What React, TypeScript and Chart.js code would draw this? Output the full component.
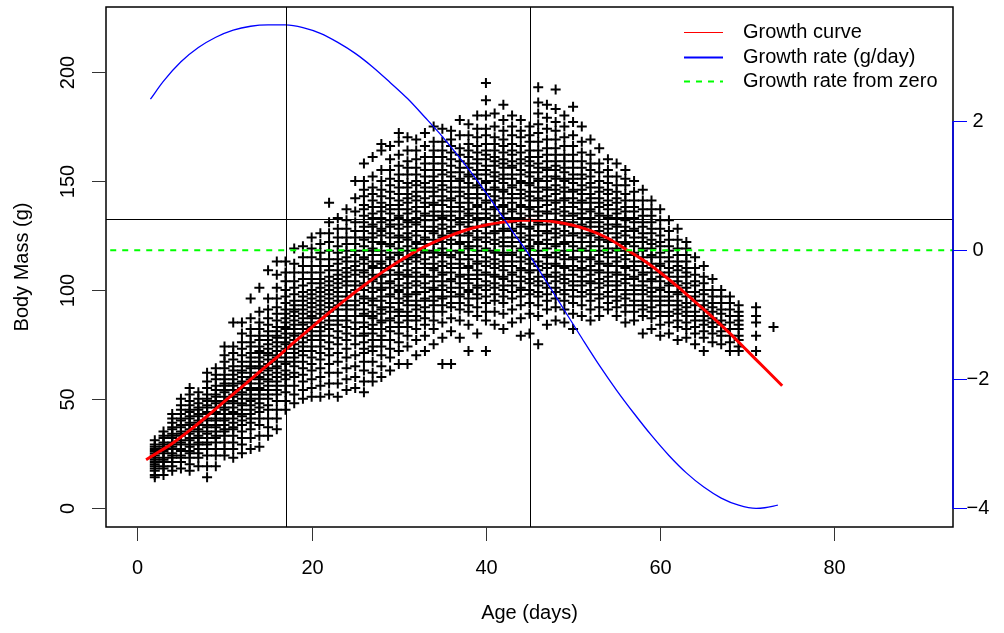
import React, { useEffect, useRef } from 'react';
import { Chart, registerables } from 'chart.js';

Chart.register(...registerables);

const xTicks = [0, 20, 40, 60, 80];
const yTicks = [0, 50, 100, 150, 200];
const y1Ticks = [-4, -2, 0, 2];
const y1TickLabels = ['\u22124', '\u22122', '0', '2'];
const refAges = [17, 45];
const refMass = 132.6;
const xLabel = 'Age (days)';
const yLabel = 'Body Mass (g)';
const legendLabels = ['Growth curve', 'Growth rate (g/day)', 'Growth rate from zero'];

const curveAges = [1, 2, 4, 6, 8, 10, 12, 14, 16, 18, 20, 22, 24, 26, 28, 30, 32, 34, 36, 38, 40, 42, 44, 45, 46, 48, 50, 52, 54, 56, 58, 60, 62, 64, 66, 68, 70, 72, 74];
const curveMass = [22, 24.5, 29.5, 35.5, 42, 48.8, 55.5, 62.3, 69, 76, 82.8, 89.5, 95.9, 102, 107.8, 113, 117.8, 121.8, 125, 127.8, 129.8, 131.1, 131.9, 132, 131.9, 131.2, 129.7, 127.2, 123.7, 118.8, 113.8, 108, 101.5, 94.5, 87.5, 80, 72, 64, 56];

const rateAges = [1.5, 3, 5, 7, 9, 11, 13, 15, 17, 19, 21, 23, 25, 27, 29, 31, 33, 35, 37, 39, 41, 43, 45, 47, 49, 51, 53, 55, 57, 59, 61, 63, 65, 67, 69, 71, 72, 73.5];
const rateValues = [2.34, 2.62, 2.92, 3.14, 3.3, 3.41, 3.47, 3.49, 3.49, 3.45, 3.36, 3.22, 3.05, 2.84, 2.6, 2.35, 2.06, 1.76, 1.43, 1.08, 0.7, 0.3, -0.08, -0.5, -0.93, -1.36, -1.78, -2.17, -2.53, -2.87, -3.18, -3.45, -3.67, -3.84, -3.95, -4.0, -3.99, -3.95];

const scatterAges = [2, 3, 4, 5, 6, 7, 8, 9, 10, 11, 12, 13, 14, 15, 16, 17, 18, 19, 20, 21, 22, 23, 24, 25, 26, 27, 28, 29, 30, 31, 32, 33, 34, 35, 36, 37, 38, 39, 40, 41, 42, 43, 44, 45, 46, 47, 48, 49, 50, 51, 52, 53, 54, 55, 56, 57, 58, 59, 60, 61, 62, 63, 64, 65, 66, 67, 68, 69, 71, 73];
const scatterMasses = [
  [14, 15, 17, 18, 19, 20, 21, 22, 23, 24, 25, 26, 27, 28, 29, 31],
  [15, 18, 19, 21, 22, 23, 25, 26, 27, 28, 29, 30, 32, 33, 35],
  [17, 19, 21, 23, 24, 25, 27, 28, 29, 30, 32, 33, 34, 36, 37, 39, 41, 43],
  [18, 21, 23, 24, 26, 27, 29, 30, 31, 33, 34, 35, 37, 38, 40, 41, 43, 45, 47, 50],
  [17, 20, 23, 25, 26, 28, 29, 31, 32, 34, 35, 36, 38, 39, 41, 42, 44, 45, 47, 49, 52, 55],
  [19, 23, 25, 27, 29, 30, 32, 33, 35, 36, 38, 39, 40, 42, 43, 45, 46, 48, 50, 53],
  [14, 19, 24, 27, 29, 30, 32, 34, 35, 37, 38, 40, 41, 43, 44, 46, 47, 49, 50, 52, 55, 58, 62],
  [19, 24, 27, 30, 32, 33, 35, 37, 38, 40, 41, 43, 44, 46, 48, 49, 51, 52, 54, 56, 59, 61, 64],
  [24, 27, 30, 33, 35, 36, 38, 40, 41, 43, 45, 46, 48, 49, 51, 53, 54, 56, 57, 59, 61, 64, 67, 70, 74],
  [23, 27, 30, 33, 36, 37, 39, 41, 43, 44, 46, 48, 49, 51, 52, 54, 56, 57, 59, 61, 63, 65, 68, 71, 74, 85],
  [25, 29, 32, 35, 38, 40, 42, 43, 45, 47, 48, 50, 52, 53, 55, 57, 58, 60, 62, 63, 65, 67, 70, 73, 76, 80, 85],
  [27, 32, 36, 39, 41, 43, 45, 47, 49, 50, 52, 54, 55, 57, 59, 60, 62, 64, 65, 67, 69, 71, 74, 76, 79, 82, 87, 96],
  [28, 33, 38, 41, 44, 46, 48, 50, 52, 54, 55, 57, 59, 60, 62, 64, 65, 67, 69, 71, 72, 74, 77, 79, 82, 85, 90, 101],
  [33, 37, 41, 45, 47, 50, 52, 54, 56, 58, 59, 61, 63, 64, 66, 68, 70, 71, 73, 75, 77, 79, 81, 84, 87, 91, 96, 109],
  [36, 41, 45, 49, 52, 54, 56, 58, 60, 62, 64, 65, 67, 69, 70, 72, 74, 76, 78, 79, 81, 83, 86, 89, 92, 96, 101, 107, 113],
  [45, 49, 53, 56, 59, 61, 63, 66, 67, 69, 71, 73, 75, 76, 78, 80, 82, 83, 85, 87, 89, 91, 94, 97, 100, 104, 108, 113],
  [48, 52, 56, 60, 62, 65, 67, 69, 71, 73, 75, 77, 79, 80, 82, 84, 86, 88, 90, 91, 93, 95, 98, 101, 104, 108, 112, 119],
  [50, 54, 58, 61, 64, 67, 70, 72, 74, 76, 78, 80, 82, 84, 85, 87, 89, 91, 93, 95, 97, 99, 102, 105, 108, 111, 115, 120],
  [51, 55, 59, 63, 66, 69, 72, 74, 77, 79, 81, 83, 85, 87, 88, 90, 92, 94, 96, 98, 100, 103, 105, 108, 111, 115, 119, 124],
  [51, 56, 60, 64, 68, 71, 74, 77, 79, 81, 83, 85, 87, 89, 91, 93, 95, 97, 99, 101, 103, 105, 108, 111, 114, 117, 121, 126],
  [52, 57, 62, 66, 70, 73, 76, 79, 82, 84, 86, 88, 90, 92, 94, 96, 98, 100, 102, 104, 106, 109, 111, 114, 118, 122, 126, 131, 140],
  [51, 57, 62, 67, 71, 75, 78, 81, 84, 86, 88, 91, 93, 95, 97, 99, 101, 103, 105, 107, 109, 112, 114, 117, 120, 124, 128, 133],
  [54, 59, 64, 69, 73, 77, 80, 83, 86, 88, 91, 93, 95, 97, 99, 102, 104, 106, 108, 110, 113, 115, 118, 121, 124, 128, 132, 137],
  [55, 60, 65, 70, 75, 79, 82, 85, 88, 91, 93, 95, 98, 100, 102, 104, 107, 109, 111, 113, 116, 118, 121, 124, 127, 131, 136, 142, 150],
  [53, 58, 63, 67, 71, 73, 76, 79, 80, 83, 85, 88, 89, 91, 94, 96, 97, 100, 102, 103, 106, 108, 109, 112, 114, 115, 118, 120, 123, 124, 127, 129, 131, 134, 137, 139, 143, 146, 150, 158],
  [58, 62, 67, 72, 74, 77, 80, 82, 84, 87, 88, 90, 93, 95, 96, 99, 101, 104, 105, 107, 110, 111, 113, 116, 118, 119, 122, 124, 126, 129, 130, 133, 135, 138, 141, 144, 147, 152, 161],
  [60, 65, 70, 74, 77, 79, 82, 85, 86, 89, 91, 92, 95, 97, 100, 101, 103, 106, 107, 110, 112, 113, 116, 118, 121, 122, 125, 127, 128, 131, 133, 136, 138, 140, 143, 146, 150, 155, 164, 167],
  [63, 69, 73, 77, 81, 83, 86, 87, 90, 92, 94, 97, 98, 101, 103, 104, 107, 109, 111, 114, 115, 117, 120, 121, 124, 126, 129, 130, 132, 135, 137, 139, 142, 145, 148, 151, 155, 160, 166],
  [66, 72, 76, 80, 83, 85, 88, 90, 91, 94, 96, 99, 100, 102, 105, 107, 108, 111, 113, 116, 117, 119, 122, 124, 125, 128, 130, 133, 134, 137, 139, 141, 144, 147, 150, 153, 157, 162, 168, 172],
  [66, 74, 79, 83, 86, 88, 90, 93, 95, 97, 98, 101, 103, 106, 107, 109, 112, 114, 115, 118, 120, 123, 124, 126, 129, 131, 132, 135, 137, 140, 142, 144, 147, 149, 153, 156, 159, 164, 170],
  [70, 77, 82, 86, 88, 91, 93, 95, 98, 99, 102, 104, 106, 108, 110, 113, 115, 116, 119, 121, 122, 125, 127, 130, 131, 133, 136, 138, 141, 143, 145, 148, 150, 153, 156, 160, 164, 169],
  [72, 79, 84, 87, 90, 92, 95, 96, 99, 101, 103, 106, 107, 110, 112, 114, 117, 118, 121, 123, 124, 127, 129, 132, 134, 135, 138, 140, 142, 145, 147, 149, 152, 155, 158, 161, 166, 172],
  [75, 82, 86, 90, 93, 95, 97, 100, 101, 104, 106, 109, 110, 112, 115, 117, 118, 121, 123, 126, 127, 129, 132, 134, 136, 139, 140, 143, 145, 147, 150, 152, 155, 158, 161, 164, 168, 175],
  [66, 78, 85, 90, 93, 96, 97, 100, 102, 104, 107, 108, 111, 113, 116, 117, 119, 122, 124, 125, 128, 130, 133, 134, 136, 139, 141, 143, 146, 148, 150, 153, 155, 158, 161, 164, 168, 174],
  [66, 81, 87, 92, 94, 97, 99, 101, 104, 105, 108, 110, 112, 115, 116, 118, 121, 123, 126, 127, 129, 132, 134, 136, 138, 141, 142, 145, 147, 150, 152, 154, 157, 160, 163, 166, 169, 173],
  [78, 86, 91, 94, 97, 98, 101, 103, 106, 107, 110, 112, 114, 117, 118, 121, 122, 125, 127, 130, 131, 133, 136, 138, 140, 143, 145, 147, 150, 151, 154, 156, 159, 162, 165, 171, 178],
  [72, 84, 90, 93, 96, 99, 100, 103, 105, 107, 110, 111, 114, 116, 119, 120, 122, 125, 126, 129, 131, 134, 135, 137, 140, 142, 144, 147, 149, 152, 153, 156, 158, 161, 164, 167, 171, 176],
  [80, 88, 92, 96, 98, 101, 102, 105, 107, 109, 112, 113, 116, 118, 120, 123, 124, 127, 129, 132, 133, 135, 138, 139, 142, 144, 147, 148, 151, 153, 155, 158, 160, 163, 166, 170, 174, 180],
  [72, 86, 90, 94, 97, 100, 102, 104, 107, 108, 111, 113, 115, 118, 119, 122, 124, 126, 129, 130, 133, 135, 137, 140, 141, 144, 146, 149, 150, 153, 155, 157, 160, 162, 164, 167, 171, 174, 180, 187, 195],
  [84, 90, 95, 98, 101, 103, 106, 107, 110, 112, 114, 117, 118, 121, 123, 126, 127, 130, 132, 134, 137, 138, 141, 143, 146, 147, 150, 152, 154, 157, 159, 161, 164, 167, 170, 175, 181],
  [82, 89, 94, 97, 100, 102, 105, 106, 109, 111, 113, 116, 117, 120, 122, 124, 127, 128, 131, 133, 135, 138, 139, 142, 145, 146, 149, 151, 153, 156, 158, 160, 163, 166, 169, 173, 178, 185],
  [85, 91, 96, 99, 102, 104, 107, 108, 111, 113, 116, 117, 120, 122, 124, 127, 128, 131, 133, 136, 137, 140, 142, 144, 147, 148, 151, 153, 156, 157, 159, 162, 164, 167, 171, 175, 180],
  [79, 87, 93, 97, 100, 101, 104, 106, 109, 110, 113, 115, 118, 119, 122, 124, 126, 129, 130, 133, 135, 138, 139, 142, 144, 146, 149, 150, 153, 155, 158, 160, 163, 166, 170, 173, 178],
  [80, 89, 94, 98, 100, 103, 105, 108, 109, 112, 114, 116, 119, 120, 123, 125, 128, 129, 132, 134, 137, 138, 141, 143, 145, 148, 149, 152, 154, 157, 159, 161, 164, 168, 171, 175],
  [75, 88, 93, 97, 99, 102, 104, 106, 109, 111, 113, 116, 118, 121, 122, 125, 127, 130, 131, 134, 136, 138, 141, 142, 145, 147, 150, 151, 154, 156, 158, 161, 164, 168, 172, 176, 181, 186, 193],
  [84, 91, 95, 98, 101, 103, 106, 107, 110, 112, 115, 116, 119, 121, 123, 126, 127, 130, 132, 135, 136, 139, 141, 143, 146, 147, 150, 152, 155, 156, 159, 162, 165, 169, 174, 179, 185],
  [86, 92, 96, 99, 101, 104, 106, 108, 111, 112, 115, 117, 120, 121, 124, 126, 128, 131, 132, 135, 137, 140, 141, 144, 146, 148, 151, 152, 155, 157, 159, 162, 165, 169, 173, 177, 183, 192],
  [85, 91, 95, 98, 100, 103, 105, 107, 110, 111, 114, 116, 118, 121, 122, 125, 127, 130, 131, 134, 136, 138, 141, 142, 145, 147, 150, 151, 154, 156, 159, 162, 166, 170, 175, 180],
  [82, 89, 94, 97, 100, 102, 104, 107, 109, 111, 114, 115, 118, 120, 122, 125, 126, 129, 131, 134, 135, 138, 140, 142, 145, 146, 149, 151, 153, 156, 159, 162, 166, 171, 177, 184],
  [88, 93, 97, 99, 102, 104, 106, 109, 110, 113, 115, 118, 119, 122, 124, 126, 129, 130, 133, 135, 137, 140, 141, 144, 146, 148, 151, 153, 156, 159, 163, 168, 175],
  [86, 91, 95, 98, 100, 103, 104, 107, 109, 111, 114, 115, 118, 120, 122, 125, 126, 129, 131, 133, 136, 137, 140, 142, 144, 147, 149, 152, 155, 158, 162, 169],
  [88, 92, 96, 98, 101, 103, 105, 108, 109, 112, 113, 116, 118, 120, 123, 124, 127, 129, 131, 134, 135, 138, 140, 142, 145, 147, 150, 154, 158, 165],
  [91, 94, 97, 99, 102, 104, 106, 108, 111, 112, 115, 117, 119, 122, 123, 126, 128, 130, 133, 134, 137, 139, 141, 144, 146, 149, 152, 155, 160],
  [88, 92, 95, 97, 100, 102, 104, 107, 108, 111, 113, 115, 118, 119, 122, 124, 126, 129, 130, 133, 135, 137, 140, 142, 145, 148, 152, 158],
  [85, 90, 93, 96, 98, 100, 103, 105, 107, 110, 111, 114, 116, 118, 121, 122, 125, 127, 129, 132, 133, 136, 138, 141, 144, 148, 151, 155],
  [86, 90, 93, 95, 98, 100, 102, 105, 106, 109, 111, 113, 116, 117, 120, 122, 124, 127, 128, 131, 133, 136, 138, 141, 145, 150],
  [80, 88, 91, 93, 95, 98, 100, 102, 104, 107, 108, 111, 113, 115, 118, 119, 122, 124, 126, 129, 131, 134, 137, 141, 146],
  [82, 87, 90, 92, 95, 97, 99, 101, 104, 105, 108, 110, 112, 115, 116, 119, 121, 123, 126, 128, 131, 134, 137, 141],
  [79, 84, 88, 90, 93, 95, 97, 100, 101, 104, 106, 108, 111, 112, 115, 117, 120, 122, 125, 128, 132, 137],
  [80, 85, 88, 90, 93, 95, 97, 99, 102, 103, 106, 108, 110, 113, 115, 118, 120, 123, 127, 132],
  [77, 83, 86, 89, 91, 93, 95, 98, 99, 102, 104, 106, 109, 111, 113, 116, 119, 123, 128],
  [78, 82, 85, 88, 90, 92, 94, 97, 99, 101, 103, 106, 108, 110, 113, 116, 119, 122],
  [75, 80, 83, 86, 88, 90, 93, 95, 97, 99, 102, 104, 107, 110, 115],
  [72, 78, 81, 84, 86, 88, 91, 93, 95, 98, 100, 103, 106, 111],
  [76, 80, 83, 85, 87, 90, 92, 94, 97, 100, 105],
  [75, 79, 81, 84, 86, 89, 91, 94, 97, 100],
  [72, 76, 79, 82, 85, 88, 91, 94, 97],
  [72, 74, 77, 79, 82, 84, 86, 88, 90, 93],
  [72, 79, 85, 88, 92],
  [83],
];

const FONT = '"Liberation Sans", Arial, Helvetica, sans-serif';

const rAxesPlugin = {
  id: 'rAxes',
  afterDatasetsDraw(chart: any) {
    const { ctx, chartArea: a, scales } = chart;
    const sx = scales.x;
    const sy = scales.y;
    const sy1 = scales.y1;
    const line = (x1: number, y1: number, x2: number, y2: number) => {
      ctx.beginPath();
      ctx.moveTo(x1, y1);
      ctx.lineTo(x2, y2);
      ctx.stroke();
    };
    ctx.save();
    ctx.strokeStyle = '#000';
    ctx.lineWidth = 1;
    for (const v of refAges) {
      const px = Math.round(sx.getPixelForValue(v)) + 0.5;
      line(px, a.top, px, a.bottom);
    }
    const hy = Math.round(sy.getPixelForValue(refMass)) + 0.5;
    line(a.left, hy, a.right, hy);

    ctx.lineWidth = 1.5;
    ctx.strokeRect(a.left, a.top, a.right - a.left, a.bottom - a.top);

    ctx.font = '20px ' + FONT;
    ctx.fillStyle = '#000';
    ctx.lineWidth = 1;
    ctx.strokeStyle = '#333';

    ctx.textAlign = 'center';
    ctx.textBaseline = 'middle';
    for (const t of xTicks) {
      const px = Math.round(sx.getPixelForValue(t)) + 0.5;
      line(px, a.bottom, px, a.bottom + 14);
      ctx.fillText(String(t), px, a.bottom + 41);
    }
    ctx.fillText(xLabel, (a.left + a.right) / 2, a.bottom + 86);

    for (const t of yTicks) {
      const py = Math.round(sy.getPixelForValue(t)) + 0.5;
      line(a.left - 14, py, a.left, py);
      ctx.save();
      ctx.translate(a.left - 38, py);
      ctx.rotate(-Math.PI / 2);
      ctx.fillText(String(t), 0, 0);
      ctx.restore();
    }
    ctx.save();
    ctx.translate(a.left - 84, (a.top + a.bottom) / 2);
    ctx.rotate(-Math.PI / 2);
    ctx.fillText(yLabel, 0, 0);
    ctx.restore();

    ctx.strokeStyle = '#0000FF';
    ctx.lineWidth = 1.5;
    const rTop = sy1.getPixelForValue(y1Ticks[y1Ticks.length - 1]);
    const rBot = sy1.getPixelForValue(y1Ticks[0]);
    line(a.right, rTop, a.right, rBot);
    ctx.lineWidth = 1;
    y1Ticks.forEach((t, i) => {
      const py = Math.round(sy1.getPixelForValue(t)) + 0.5;
      line(a.right, py, a.right + 14, py);
      ctx.fillText(y1TickLabels[i], a.right + 25, py);
    });

    const colors = ['#FF0000', '#0000FF', '#00FF00'];
    const widths = [1, 2, 2];
    const rows = [32, 57, 81];
    ctx.textAlign = 'left';
    legendLabels.forEach((lab, i) => {
      ctx.strokeStyle = colors[i];
      ctx.lineWidth = widths[i];
      ctx.setLineDash(i === 2 ? [6, 6] : []);
      line(684, rows[i] + 0.5, 723, rows[i] + 0.5);
      ctx.setLineDash([]);
      ctx.fillStyle = '#000';
      ctx.fillText(lab, 743, rows[i]);
    });
    ctx.restore();
  },
};

export default function App() {
  const canvasRef = useRef<HTMLCanvasElement | null>(null);

  useEffect(() => {
    const canvas = canvasRef.current;
    if (!canvas) return;
    const points: { x: number; y: number }[] = [];
    scatterAges.forEach((age, i) => {
      for (const m of scatterMasses[i]) points.push({ x: age, y: m });
    });
    const curve = curveAges.map((a, i) => ({ x: a, y: curveMass[i] }));
    const rate = rateAges.map((a, i) => ({ x: a, y: rateValues[i] }));
    const zero = [{ x: -10, y: 0 }, { x: 100, y: 0 }];

    const chart = new Chart(canvas, {
      type: 'scatter',
      data: {
        datasets: [
          {
            label: 'Observations',
            data: points,
            yAxisID: 'y',
            pointStyle: 'cross',
            pointRadius: 5,
            borderColor: '#000',
            borderWidth: 2,
            order: 4,
          },
          {
            label: legendLabels[0],
            data: curve,
            yAxisID: 'y',
            showLine: true,
            pointRadius: 0,
            borderColor: '#FF0000',
            borderWidth: 3,
            cubicInterpolationMode: 'monotone',
            order: 3,
          },
          {
            label: legendLabels[1],
            data: rate,
            yAxisID: 'y1',
            showLine: true,
            pointRadius: 0,
            borderColor: '#0000FF',
            borderWidth: 1.3,
            cubicInterpolationMode: 'monotone',
            order: 2,
          },
          {
            label: legendLabels[2],
            data: zero,
            yAxisID: 'y1',
            showLine: true,
            pointRadius: 0,
            borderColor: '#00FF00',
            borderWidth: 2,
            borderDash: [6, 6],
            order: 1,
          },
        ],
      } as any,
      options: {
        responsive: false,
        animation: false,
        devicePixelRatio: 1,
        layout: { padding: { left: 106, right: 51, top: 7, bottom: 106 } },
        plugins: { legend: { display: false }, tooltip: { enabled: false } },
        scales: {
          x: { type: 'linear', min: -3.6, max: 93.6, display: false },
          y: { type: 'linear', min: -8.84, max: 229.84, display: false },
          y1: { type: 'linear', position: 'right', min: -4.2884, max: 3.7684, display: false },
        },
      } as any,
      plugins: [rAxesPlugin],
    });
    return () => chart.destroy();
  }, []);

  return (
    <div style={{ position: 'absolute', left: 0, top: 0, width: 1004, height: 633, background: '#fff' }}>
      <canvas ref={canvasRef} width={1004} height={633} style={{ display: 'block' }} />
    </div>
  );
}
